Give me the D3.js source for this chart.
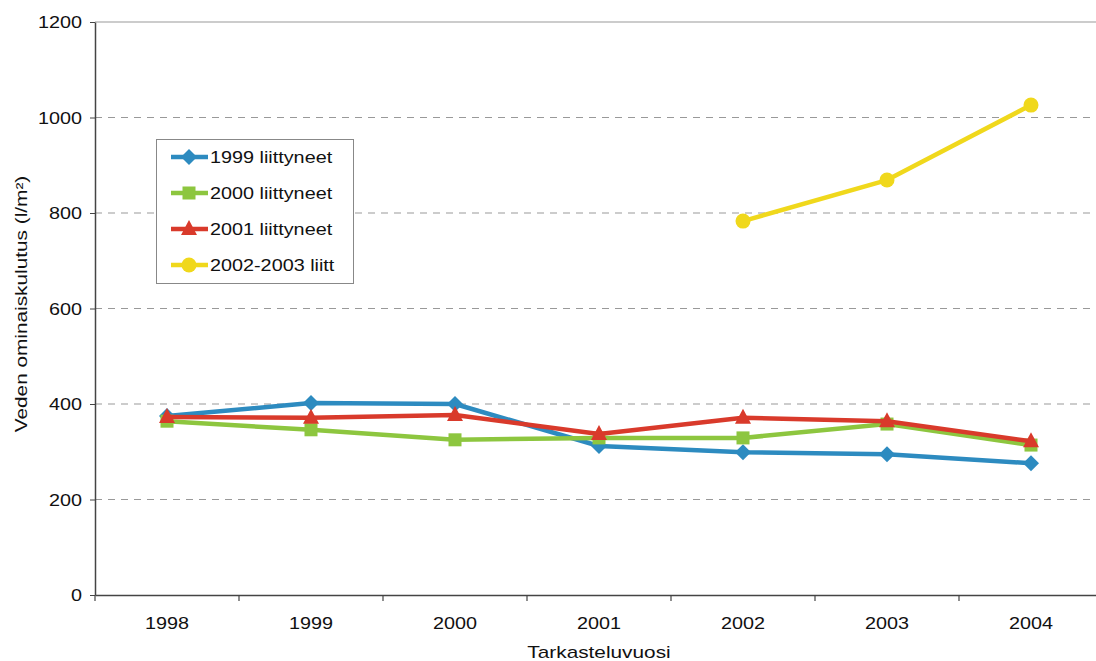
<!DOCTYPE html>
<html><head><meta charset="utf-8">
<script src="https://cdn.jsdelivr.net/npm/d3@7"></script>
<style>
body{margin:0;background:#fff;}
svg text{font-family:"Liberation Sans",Arial,sans-serif;fill:#111;}
</style></head>
<body><svg id="c" width="1096" height="661"></svg>
<script>
const years = ["1998","1999","2000","2001","2002","2003","2004"];
const yTicks = [0,200,400,600,800,1000,1200];
const seriesNames = ["1999 liittyneet","2000 liittyneet","2001 liittyneet","2002-2003 liitt"];
const s1999 = [375,402,400,312,299,295,276];
const s2000 = [364,346,325,329,329,358,314];
const s2001 = [373,371,377,337,371,364,322];
const s2002 = [null,null,null,null,783,869,1026];
const colors = ["#2d8bc0","#8dc63f","#d93a2b","#f0d81c"];
const shapes = ["diamond","square","triangle","circle"];

const svg = d3.select("#c");
const mLeft=95, mRight=1103, mTop=22, mBottom=595;
const x = d3.scaleBand().domain(years).range([mLeft,mRight]);
const y = d3.scaleLinear().domain([0,1200]).range([mBottom,mTop]);
const SX = 1.2;

// gridlines
svg.append("g").selectAll("line").data(yTicks.filter(d=>d>0)).join("line")
  .attr("x1",mLeft).attr("x2",mRight).attr("y1",d=>y(d)).attr("y2",d=>y(d))
  .attr("stroke","#999").attr("stroke-width",1)
  .attr("stroke-dasharray",d=>d===1200?null:"7,6");

// y axis
const ya = svg.append("g").attr("transform",`translate(${mLeft},0)`)
  .call(d3.axisLeft(y).tickValues(yTicks).tickFormat(d3.format("d")).tickSize(5).tickPadding(0).tickSizeOuter(0));
ya.select(".domain").attr("stroke","#444").attr("stroke-width",1.5);
ya.selectAll(".tick line").attr("stroke","#444");
ya.selectAll(".tick text").attr("x",-13/SX).attr("dy","0.35em").attr("transform",`scale(${SX},1)`)
  .style("font-size","16.5px").style("font-family","Liberation Sans, Arial, sans-serif").attr("fill","#111");

// x axis
const xa = svg.append("g").attr("transform",`translate(0,${mBottom})`)
  .call(d3.axisBottom(x).tickSize(0).tickPadding(22).tickSizeOuter(0));
xa.select(".domain").attr("stroke","#444").attr("stroke-width",1.5);
xa.selectAll(".tick text").attr("transform",`scale(${SX},1)`)
  .style("font-size","16.5px").style("font-family","Liberation Sans, Arial, sans-serif").attr("fill","#111");
// category boundary ticks
svg.append("g").selectAll("line").data(years).join("line")
  .attr("x1",d=>x(d)).attr("x2",d=>x(d)).attr("y1",mBottom).attr("y2",mBottom+6)
  .attr("stroke","#444").attr("stroke-width",1.2);

// titles
svg.append("text").attr("transform",`translate(599,658) scale(1.3,1)`)
  .attr("text-anchor","middle").style("font-size","16px").text("Tarkasteluvuosi");
svg.append("text").attr("transform",`translate(27,304) rotate(-90) scale(1.3,1)`)
  .attr("text-anchor","middle").style("font-size","16px").text("Veden ominaiskulutus (l/m²)");

function marker(g, shape, color){
  if(shape==="diamond") g.append("path").attr("d","M0,-8L8,0L0,8L-8,0Z").attr("fill",color);
  else if(shape==="square") g.append("rect").attr("x",-6.5).attr("y",-6.5).attr("width",13).attr("height",13).attr("fill",color);
  else if(shape==="triangle") g.append("path").attr("d","M0,-9L8,6L-8,6Z").attr("fill",color);
  else g.append("circle").attr("r",7.5).attr("fill",color);
}

const allSeries = [s1999,s2000,s2001,s2002];
const line = d3.line().defined(d=>d.v!=null).x(d=>x(d.k)+x.bandwidth()/2).y(d=>y(d.v));
allSeries.forEach((s,i)=>{
  const data = years.map((k,j)=>({k, v:s[j]}));
  svg.append("path").datum(data).attr("d",line).attr("fill","none")
    .attr("stroke",colors[i]).attr("stroke-width",4.5).attr("stroke-linejoin","round");
  data.filter(d=>d.v!=null).forEach(d=>{
    const g = svg.append("g").attr("transform",`translate(${x(d.k)+x.bandwidth()/2},${y(d.v)})`);
    marker(g, shapes[i], colors[i]);
  });
});

// legend
const lg = svg.append("g");
lg.append("rect").attr("x",156.5).attr("y",139.5).attr("width",197).attr("height",144)
  .attr("fill","#fff").attr("stroke","#888").attr("stroke-width",1);
seriesNames.forEach((n,i)=>{
  const yy = 157 + i*36;
  lg.append("line").attr("x1",171).attr("x2",208).attr("y1",yy).attr("y2",yy)
    .attr("stroke",colors[i]).attr("stroke-width",4.5);
  const g = lg.append("g").attr("transform",`translate(189,${yy})`);
  marker(g, shapes[i], colors[i]);
  lg.append("text").attr("transform",`translate(210,${yy}) scale(${SX},1)`).attr("dy","0.36em")
    .style("font-size","16.5px").text(n);
});
</script></body></html>
